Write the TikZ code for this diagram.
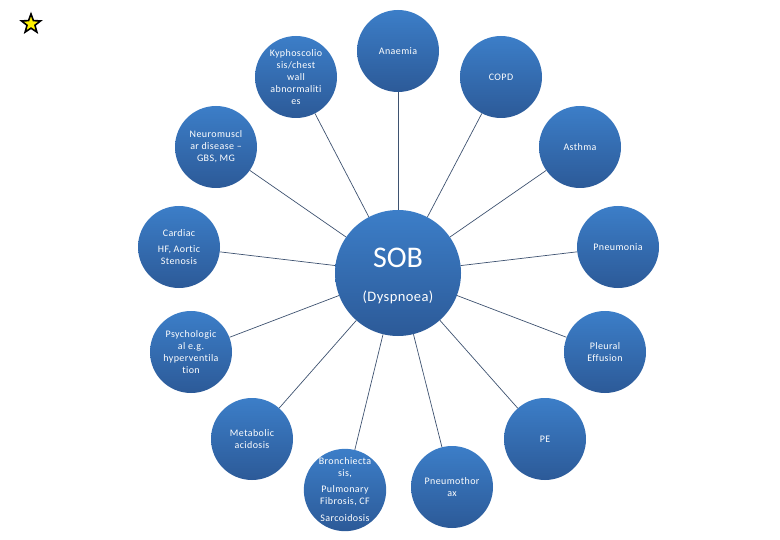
\documentclass[tikz,border=0pt]{standalone}
\usepackage{fontspec}
\setmainfont{Carlito}[RawFeature={-liga;-clig;-dlig;-calt}]
\usetikzlibrary{shapes.geometric}
\definecolor{bubtop}{RGB}{60,126,200}
\definecolor{bubbot}{RGB}{44,90,152}
\definecolor{connc}{RGB}{62,82,112}
\begin{document}
\begin{tikzpicture}[x=1bp,y=-1bp,
  bub/.style={circle, minimum size=82bp, inner sep=0pt, top color=bubtop, bottom color=bubbot, draw=none,
    text=white, align=center, font=\addfontfeatures{LetterSpace=4}\fontsize{10bp}{12bp}\selectfont},
  bigbub/.style={circle, minimum size=126bp, inner sep=0pt, top color=bubtop, bottom color=bubbot, draw=none},
  conn/.style={draw=connc, line width=0.7bp}]
\useasboundingbox (0,0) rectangle (780,540);
\node[star, star points=5, star point ratio=2.4, fill=yellow, draw=black, line width=1.6bp, minimum size=20bp, inner sep=0pt] (st) at (31,24) {};

\node[bigbub] (sob) at (398,273) {};
\node[text=white, font=\fontsize{30bp}{34bp}\selectfont] (sobt) at (398,258) {SOB};
\node[text=white, font=\addfontfeatures{LetterSpace=3}\fontsize{14.5bp}{17bp}\selectfont] (dys) at (398,297) {(Dyspnoea)};

\node[bub] (ana) at (398,51) {Anaemia};
\node[bub] (copd) at (501,77) {COPD};
\node[bub] (ast) at (580,147) {Asthma};
\node[bub] (pna) at (618,247) {Pneumonia};
\node[bub] (ple) at (605,352) {Pleural\\Effusion};
\node[bub] (pe) at (545,439) {PE};
\node[bub] (ptx) at (452,487) {Pneumothor\\ax};
\node[bub] (bro) at (345,490) {Bronchiecta\\sis,\\[4bp]Pulmonary\\Fibrosis, CF\\[5bp]Sarcoidosis};
\node[bub] (met) at (252,439) {Metabolic\\acidosis};
\node[bub] (psy) at (191,352) {Psychologic\\al e.g.\\hyperventila\\tion};
\node[bub] (car) at (179,247) {Cardiac\\[4bp]HF, Aortic\\Stenosis};
\node[bub] (neu) at (216,147) {Neuromuscl\\ar disease --\\GBS, MG};
\node[bub] (kyp) at (296,77) {Kyphoscolio\\sis/chest\\wall\\abnormaliti\\es};

\foreach \n in {ana,copd,ast,pna,ple,pe,ptx,bro,met,psy,car,neu,kyp}
  \draw[conn] (sob) -- (\n);
\end{tikzpicture}
\end{document}
